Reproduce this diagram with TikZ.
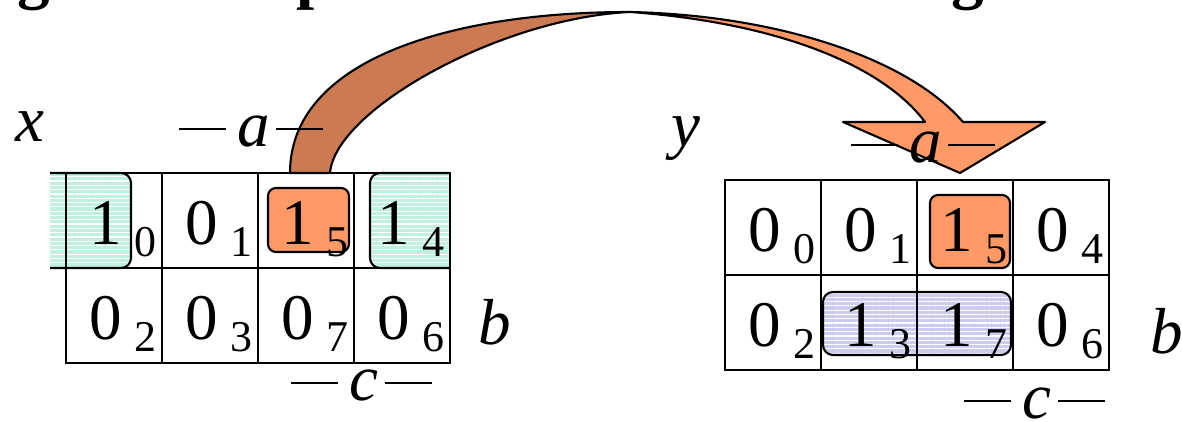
\documentclass[tikz,border=0pt]{standalone}
\usepackage{fontspec}
\setmainfont{Liberation Serif}
\usetikzlibrary{patterns.meta}
\definecolor{ImpClr}{HTML}{FF9966}
\definecolor{ArcClr}{HTML}{CC7A52}
\definecolor{GrpAClr}{HTML}{C0F0E0}
\definecolor{GrpBClr}{HTML}{CCCCF2}

\newcommand{\kcell}[5]{%
  \node[kcell] (#1#5) at (#2,#3) {};
  \node[kval] (#1#5v) at ([shift={(40,72)}]#1#5.north west) {#4};
  \node[kidx] (#1#5i) at ([shift={(79,84)}]#1#5.north west) {#5};
}
\newcommand{\dashlab}[1]{\rule[0.165cm]{0.47cm}{0.02cm}\hspace{0.12cm}#1\hspace{0.06cm}\rule[0.165cm]{0.47cm}{0.02cm}}

\begin{document}
\begin{tikzpicture}[x=0.01cm,y=-0.01cm,
  kcell/.style={draw,line width=0.7pt,minimum width=0.96cm,minimum height=0.95cm,inner sep=0pt,outer sep=0pt,anchor=north west},
  kval/.style={font=\fontsize{18.5}{20}\selectfont,inner sep=0pt,anchor=base},
  kidx/.style={font=\fontsize{12.5}{14}\selectfont,inner sep=0pt,anchor=base},
  var/.style={font=\fontsize{18.5}{20}\selectfont\itshape,inner sep=0pt,anchor=base west},
  ttl/.style={font=\fontsize{18.5}{20}\selectfont\bfseries,inner sep=0pt,anchor=base west},
  impl/.style={draw,line width=0.6pt,fill=ImpClr,rounded corners=0.08cm},
  grp/.style={draw,line width=0.6pt,rounded corners=0.1cm,pattern={Lines[angle=0,distance=0.043cm,line width=0.012cm]},pattern color=white},
  grpA/.style={grp,preaction={fill=GrpAClr}},
  grpB/.style={grp,preaction={fill=GrpBClr}},
  arrline/.style={draw,line width=0.6pt,line join=round}]
\useasboundingbox (0,0) rectangle (1182,422);

\begin{scope}
\clip (0,0) rectangle (1182,60);
\node[ttl] (t1) at (17,-3) {g};
\node[ttl] (t2) at (296,-3) {p};
\node[ttl] (t3) at (951,-3) {g};
\end{scope}

\begin{scope}
\clip (50,150) rectangle (450,290);
\path[grpA] (10,173) rectangle (131,268);
\path[grpA] (370,173) rectangle (490,268);
\end{scope}
\path[impl] (268,188) rectangle (349,252);

\path[impl] (930,195) rectangle (1010,268);
\path[grpB] (823,292) rectangle (1011,355);

\foreach \v/\i [count=\k from 0] in {1/0,0/1,1/5,1/4,0/2,0/3,0/7,0/6}{
  \pgfmathsetmacro{\cx}{66+96*mod(\k,4)}
  \pgfmathsetmacro{\cy}{173+95*int(\k/4)}
  \kcell{L}{\cx}{\cy}{\v}{\i}
}
\foreach \v/\i [count=\k from 0] in {0/0,0/1,1/5,0/4,0/2,1/3,1/7,0/6}{
  \pgfmathsetmacro{\cx}{725+96*mod(\k,4)}
  \pgfmathsetmacro{\cy}{180+95*int(\k/4)}
  \kcell{R}{\cx}{\cy}{\v}{\i}
}

\path[arrline,fill=ArcClr] (290,173) .. controls (290,60) and (450,12) .. (630,12)
  .. controls (500,18) and (335,110) .. (330,173) -- cycle;
\path[arrline,fill=ImpClr] (630,12) .. controls (770,15) and (905,55) .. (963,122)
  -- (1045,122) -- (960,173) -- (843,122) -- (925,122)
  .. controls (880,62) and (770,22) .. (630,12) -- cycle;

\node[var] (xl) at (15,142) {x};
\node[var] (yl) at (671,147) {y};
\node[var] (bl) at (478,345) {b};
\node[var] (br) at (1150,354) {b};
\node[var] (al) at (178,147) {\dashlab{a}};
\node[var] (ar) at (850,163) {\dashlab{a}};
\node[var] (cl) at (290,401) {\dashlab{c}};
\node[var] (cr) at (963,419) {\dashlab{c}};

\end{tikzpicture}
\end{document}
